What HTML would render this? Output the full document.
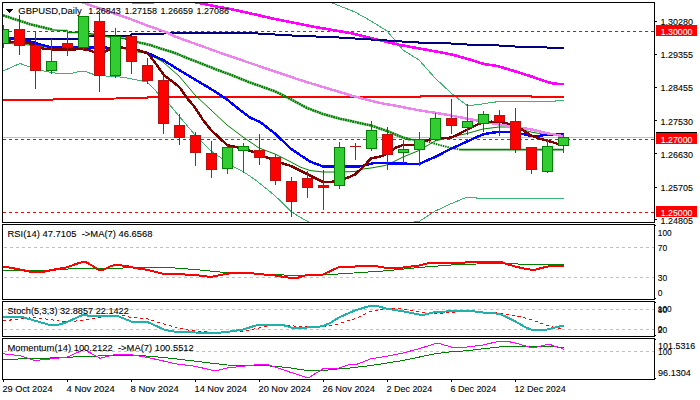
<!DOCTYPE html>
<html><head><meta charset="utf-8"><title>GBPUSD Daily</title>
<style>html,body{margin:0;padding:0;background:#fff;}svg{display:block;}text{font-family:"Liberation Sans",sans-serif;}</style>
</head><body>
<svg width="700" height="400" viewBox="0 0 700 400">
<rect x="0" y="0" width="700" height="400" fill="#fff"/>
<defs>
<clipPath id="cm"><rect x="3" y="3" width="651" height="219"/></clipPath>
<clipPath id="c1"><rect x="3" y="225" width="651" height="74"/></clipPath>
<clipPath id="c2"><rect x="3" y="302" width="651" height="34"/></clipPath>
<clipPath id="c3"><rect x="3" y="339" width="651" height="40"/></clipPath>
</defs>
<g clip-path="url(#cm)" shape-rendering="crispEdges">
<line x1="3" y1="137.5" x2="654" y2="137.5" stroke="#C0C0C0" stroke-width="1"/>
<line x1="3" y1="31.5" x2="654" y2="31.5" stroke="#FF0000" stroke-width="1" stroke-dasharray="3 3"/>
<line x1="3" y1="139.5" x2="654" y2="139.5" stroke="#FF0000" stroke-width="1" stroke-dasharray="3 3"/>
<line x1="3" y1="212.5" x2="654" y2="212.5" stroke="#FF0000" stroke-width="1" stroke-dasharray="3 3"/>
<polyline points="331,2.5 350,10 355,12 371,21 387,31 403,50 419,60 435,78 451,93 467,105.5 470,105.5 479,104.5 486,103.5 490,102.5 495,102.5 496,101.5 555,101.5 556,100.5 563.5,100.5" fill="none" stroke="#3CB371" stroke-width="1" />
<polyline points="130,2 134,4 143,3 152,4 156,2" fill="none" stroke="#3CB371" stroke-width="1" />
<polyline points="3,71 20,63.5 30,67 46,71.5 55,73 61,73.8 70,73.8 80,71.3 86,71.8 94,74.5 110,76.5 120,77 130,78.5 142,81 147,82 155,90 158,93.5 169,104 179,116 195,135 211,151 227,162 233,166.5 243,171.5 256,180.3 272,193.3 282,202.3 291.7,212 298,216 308.7,222 313,225" fill="none" stroke="#3CB371" stroke-width="1" />
<polyline points="409,225 414.6,221.5 419,221.5 433,212.4 435,211.2 451,203.7 466,197.5 476,197.5 477,198.5 563.5,198.5" fill="none" stroke="#3CB371" stroke-width="1" />
<polyline points="3,100.4 52,100.2 53,99.5 84,99.3 85,98.7 116,98.5 117,97.9 147,97.7 148,97 260,97 260,96.5 275,96.5 275,97 420,97 421,96 531,96 532,97 564,97" fill="none" stroke="#FF0000" stroke-width="2" />
<polyline points="186,0 196,2.5 235,10 275,19 315,27 350,33 400,45 440,52.2 452,54.6 468,59 484,64 498,66.2 514,71 530,76 546,81.6 554,83.6 564,84.2" fill="none" stroke="#FF00FF" stroke-width="2.6" />
<polyline points="3,38.6 80,38.6 89,36.2 105,36 130,35.7 132,34.3 163,34.2 165,33 257,33 259,34 275,34.5 292,35.5 307,36.3 338,37 340,38 354,38 356,39 370,39 372,40 386,40 388,41.2 402,41.4 404,42.3 418,42.4 420,43 450,43 452,44 466,44 468,45 498,45 500,46 514,46 516,47 546,47 548,48 564,48" fill="none" stroke="#000080" stroke-width="2" />
</g><g clip-path="url(#cm)">
<polyline points="3,15.3 18,20.3 30,24.2 40,26.7 52,29.5" fill="none" stroke="#008000" stroke-width="2.6" stroke-dasharray="2 0.45"/>
<polyline points="52,29.8 60,30.4 67,30.5 68,32.5 78,32.5 92,34 110,37 125,38.5" fill="none" stroke="#008000" stroke-width="1.3" />
<polyline points="125,38.5 137,42 150,45 160,48.3 175,53 187,58 200,63 215,69 230,74.5 250,82.5 275,91.3 290,98.8 307,108 323,114 339,118.5 355,122 371,125.5 387,131 403,137.5 410,139.5" fill="none" stroke="#008000" stroke-width="2.6" stroke-dasharray="2 0.45"/>
<polyline points="410,139.5 425,140.5 435,143.8 451,148 460,149.6" fill="none" stroke="#008000" stroke-width="2" stroke-dasharray="1.5 0.9"/>
<polyline points="460,149.6 564,149.6" fill="none" stroke="#008000" stroke-width="1.6" />
</g><g clip-path="url(#cm)" shape-rendering="crispEdges">
</g><g clip-path="url(#cm)">
<polyline points="3,43 30,45 60,49 121,48 137,52 147,53 163,62 179,76 195,95 211,110 227,125 243,137 259,148 275,154 291,162 300,167 310,170.5 323,172 339,172 355,171.5 363,169 371,168 385,165.5 391,163 403,157 419,150.5 435,141 451,137 467,133.5 483,129 499,127 510,127 523,130 531,132 547,135 564,135" fill="none" stroke="#008000" stroke-width="1" />
</g><g clip-path="url(#cm)" shape-rendering="crispEdges">
<polyline points="3,38 14,38.5 25,40.5 34,42.5 40,44.5 51,47.2 60,47.6 130,47.8 137,50 147,52.8 163,60 179,70 195,79.5 211,89 227,99.5 240,110 250,117.5 260,122 275,133.5 290,148 300,155 310,161.5 323,166.5 359,166.6 366,165 374,163 419,164 427,160.5 435,157 451,148.8 467,141.6 474,138.3 484,134 491.5,132.8 498,132 510,132 523,134 531,136 539,136 547,134.6 564,134.4" fill="none" stroke="#0000FF" stroke-width="2.45" />
<polyline points="76,0 84,3 118.6,15 133,20 147,25.5 161.4,30.5 166,32 175,36.5 200,45.5 225,54.5 250,63 275,71.5 300,80 323,87 355,96.6 380,103 394,105.4 408.6,108.3 423,111 437,113 452,115.7 468,118.8 483,121.7 490,123 507,125.6 523,128.1 531,129.4 547,133.3 564,136.2" fill="none" stroke="#EE82EE" stroke-width="2.45" />
<polyline points="3,41 14,42 25,42.5 30,43.5 35,46 45,49 60,49.6 75,49.6 78,48.6 89,50 94,52.3 105,51.5 110,49 121,47.5 131,48.5 137,50 147,53 150,56 153,60 158.6,67.6 164.3,75.5 173,82 179.3,87 187,98 195,107.5 203,120 211,130 227,145 243,148.5 259,154 275,161 291,166 300,170.5 307,174 323,182 331,182 339,180 347,178 355,174.5 363,167 371,158.5 380,156.5 387,154 395,148 403,145 413,145 419,143.5 427,140.5 435,138 451,137.7 457.4,134.8 468.8,128.8 478.5,123.9 485,122.3 491.5,121.7 501,122 507,123.3 515,126 523,130 531,135.5 539,138.5 547,140.5 555,143 558,144" fill="none" stroke="#800000" stroke-width="2.45" />
<rect x="3" y="25" width="1" height="23" fill="#008000"/>
<rect x="-2" y="29" width="11" height="15" fill="#008000"/>
<rect x="-1" y="30" width="9" height="13" fill="#32CD32"/>
<rect x="19" y="15" width="1" height="40" fill="#B41414"/>
<rect x="14" y="29" width="11" height="17" fill="#B41414"/>
<rect x="15" y="30" width="9" height="15" fill="#FF0000"/>
<rect x="35" y="31" width="1" height="58" fill="#B41414"/>
<rect x="30" y="45" width="11" height="26" fill="#B41414"/>
<rect x="31" y="46" width="9" height="24" fill="#FF0000"/>
<rect x="51" y="39" width="1" height="35" fill="#008000"/>
<rect x="46" y="61" width="11" height="10" fill="#008000"/>
<rect x="47" y="62" width="9" height="8" fill="#32CD32"/>
<rect x="67" y="32" width="1" height="24" fill="#B41414"/>
<rect x="62" y="43" width="11" height="5" fill="#B41414"/>
<rect x="63" y="44" width="9" height="3" fill="#FF0000"/>
<rect x="83" y="16" width="1" height="35" fill="#008000"/>
<rect x="78" y="16" width="11" height="32" fill="#008000"/>
<rect x="79" y="17" width="9" height="30" fill="#32CD32"/>
<rect x="99" y="12" width="1" height="80" fill="#B41414"/>
<rect x="94" y="21" width="11" height="55" fill="#B41414"/>
<rect x="95" y="22" width="9" height="53" fill="#FF0000"/>
<rect x="115" y="28" width="1" height="50" fill="#008000"/>
<rect x="110" y="36" width="11" height="40" fill="#008000"/>
<rect x="111" y="37" width="9" height="38" fill="#32CD32"/>
<rect x="131" y="36" width="1" height="38" fill="#B41414"/>
<rect x="126" y="36" width="11" height="26" fill="#B41414"/>
<rect x="127" y="37" width="9" height="24" fill="#FF0000"/>
<rect x="147" y="58" width="1" height="26" fill="#B41414"/>
<rect x="142" y="65" width="11" height="16" fill="#B41414"/>
<rect x="143" y="66" width="9" height="14" fill="#FF0000"/>
<rect x="163" y="76" width="1" height="58" fill="#B41414"/>
<rect x="158" y="80" width="11" height="44" fill="#B41414"/>
<rect x="159" y="81" width="9" height="42" fill="#FF0000"/>
<rect x="179" y="114" width="1" height="31" fill="#B41414"/>
<rect x="174" y="125" width="11" height="13" fill="#B41414"/>
<rect x="175" y="126" width="9" height="11" fill="#FF0000"/>
<rect x="195" y="132" width="1" height="34" fill="#B41414"/>
<rect x="190" y="135" width="11" height="18" fill="#B41414"/>
<rect x="191" y="136" width="9" height="16" fill="#FF0000"/>
<rect x="211" y="141" width="1" height="37" fill="#B41414"/>
<rect x="206" y="153" width="11" height="17" fill="#B41414"/>
<rect x="207" y="154" width="9" height="15" fill="#FF0000"/>
<rect x="227" y="145" width="1" height="29" fill="#008000"/>
<rect x="222" y="147" width="11" height="22" fill="#008000"/>
<rect x="223" y="148" width="9" height="20" fill="#32CD32"/>
<rect x="243" y="143" width="1" height="30" fill="#008000"/>
<rect x="238" y="146" width="11" height="5" fill="#008000"/>
<rect x="239" y="147" width="9" height="3" fill="#32CD32"/>
<rect x="259" y="134" width="1" height="31" fill="#B41414"/>
<rect x="254" y="150" width="11" height="8" fill="#B41414"/>
<rect x="255" y="151" width="9" height="6" fill="#FF0000"/>
<rect x="275" y="154" width="1" height="31" fill="#B41414"/>
<rect x="270" y="157" width="11" height="24" fill="#B41414"/>
<rect x="271" y="158" width="9" height="22" fill="#FF0000"/>
<rect x="291" y="177" width="1" height="40" fill="#B41414"/>
<rect x="286" y="181" width="11" height="21" fill="#B41414"/>
<rect x="287" y="182" width="9" height="19" fill="#FF0000"/>
<rect x="307" y="171" width="1" height="27" fill="#B41414"/>
<rect x="302" y="178" width="11" height="10" fill="#B41414"/>
<rect x="303" y="179" width="9" height="8" fill="#FF0000"/>
<rect x="323" y="170" width="1" height="40" fill="#B41414"/>
<rect x="318" y="185" width="11" height="3" fill="#B41414"/>
<rect x="319" y="186" width="9" height="1" fill="#FF0000"/>
<rect x="339" y="142" width="1" height="47" fill="#008000"/>
<rect x="334" y="147" width="11" height="39" fill="#008000"/>
<rect x="335" y="148" width="9" height="37" fill="#32CD32"/>
<rect x="355" y="143" width="1" height="17" fill="#B41414"/>
<rect x="350" y="146" width="11" height="1" fill="#B41414"/>
<rect x="371" y="121" width="1" height="30" fill="#008000"/>
<rect x="366" y="130" width="11" height="19" fill="#008000"/>
<rect x="367" y="131" width="9" height="17" fill="#32CD32"/>
<rect x="387" y="127" width="1" height="43" fill="#B41414"/>
<rect x="382" y="134" width="11" height="21" fill="#B41414"/>
<rect x="383" y="135" width="9" height="19" fill="#FF0000"/>
<rect x="403" y="140" width="1" height="23" fill="#008000"/>
<rect x="398" y="149" width="11" height="4" fill="#008000"/>
<rect x="399" y="150" width="9" height="2" fill="#32CD32"/>
<rect x="419" y="132" width="1" height="34" fill="#008000"/>
<rect x="414" y="139" width="11" height="11" fill="#008000"/>
<rect x="415" y="140" width="9" height="9" fill="#32CD32"/>
<rect x="435" y="113" width="1" height="28" fill="#008000"/>
<rect x="430" y="118" width="11" height="22" fill="#008000"/>
<rect x="431" y="119" width="9" height="20" fill="#32CD32"/>
<rect x="451" y="99" width="1" height="35" fill="#B41414"/>
<rect x="446" y="118" width="11" height="8" fill="#B41414"/>
<rect x="447" y="119" width="9" height="6" fill="#FF0000"/>
<rect x="467" y="104" width="1" height="31" fill="#008000"/>
<rect x="462" y="121" width="11" height="7" fill="#008000"/>
<rect x="463" y="122" width="9" height="5" fill="#32CD32"/>
<rect x="483" y="111" width="1" height="21" fill="#008000"/>
<rect x="478" y="114" width="11" height="10" fill="#008000"/>
<rect x="479" y="115" width="9" height="8" fill="#32CD32"/>
<rect x="499" y="110" width="1" height="26" fill="#B41414"/>
<rect x="494" y="115" width="11" height="7" fill="#B41414"/>
<rect x="495" y="116" width="9" height="5" fill="#FF0000"/>
<rect x="515" y="108" width="1" height="45" fill="#B41414"/>
<rect x="510" y="121" width="11" height="29" fill="#B41414"/>
<rect x="511" y="122" width="9" height="27" fill="#FF0000"/>
<rect x="531" y="147" width="1" height="27" fill="#B41414"/>
<rect x="526" y="147" width="11" height="23" fill="#B41414"/>
<rect x="527" y="148" width="9" height="21" fill="#FF0000"/>
<rect x="547" y="140" width="1" height="33" fill="#008000"/>
<rect x="542" y="146" width="11" height="26" fill="#008000"/>
<rect x="543" y="147" width="9" height="24" fill="#32CD32"/>
<rect x="563" y="134" width="1" height="19" fill="#008000"/>
<rect x="558" y="137" width="11" height="9" fill="#008000"/>
<rect x="559" y="138" width="9" height="7" fill="#32CD32"/>
</g>
<g clip-path="url(#c1)" shape-rendering="crispEdges">
<line x1="3" y1="247.5" x2="654" y2="247.5" stroke="#C0C0C0" stroke-width="1" stroke-dasharray="3 3" stroke-dashoffset="5"/>
<line x1="3" y1="277.5" x2="654" y2="277.5" stroke="#C0C0C0" stroke-width="1" stroke-dasharray="3 3" stroke-dashoffset="5"/>
<polyline points="3,270.5 50,270.5 75,268.4 118,268.4 128,267.6 165,267.6 175,268 200,270 230,273 260,274.25 300,275.5 330,274.5 350,273.25 387,270.75 419,267.5 451,265 483,263.75 499,263.25 525,264.3 564,264.3" fill="none" stroke="#008000" stroke-width="1" />
<polyline points="3,267 10,267.6 20,269.6 30,271.6 43,271.8 54,269.6 66,267.6 76,264 82,262.2 86,262.2 92,265.6 98,269.6 103,270 112,265.6 118,265 128,266.4 140,269 147,269.7 163,273.75 175,274 195,275 211,277 227,273.75 235,272.5 243,272.5 259,274 275,275.5 291,278 297,278 307,275 323,274.5 339,267 350,267 363,265.75 375,266 387,268 403,267.5 419,265.5 431,262.6 465,262.6 468,261.5 500,261.5 505,263.5 515,266.5 525,268.75 531,269.7 535,269.7 547,266.6 555,265.9 564,265.9" fill="none" stroke="#FF0000" stroke-width="2" />
</g>
<g clip-path="url(#c2)" shape-rendering="crispEdges">
<line x1="3" y1="309.5" x2="654" y2="309.5" stroke="#C0C0C0" stroke-width="1" stroke-dasharray="3 3" stroke-dashoffset="5"/>
<line x1="3" y1="329.5" x2="654" y2="329.5" stroke="#C0C0C0" stroke-width="1" stroke-dasharray="3 3" stroke-dashoffset="5"/>
<polyline points="3,321 20,318.75 35,317.5 50,319.5 60,321.25 70,322 83,320 99,317.3 115,316 125,315.7 131,317.5 147,318.75 163,323.75 175,327 180,328 190,330.5 215,332.5 227,332 243,331.25 259,328 275,325 291,325.75 307,327 323,327 339,323.75 350,320 355,318.75 371,311.25 387,308.75 403,308.75 419,312 435,313.75 451,312.5 467,311.25 483,312 499,313 515,315.5 525,318 531,319.5 547,325.5 564,329.5" fill="none" stroke="#FF0000" stroke-width="1" stroke-dasharray="3 3"/>
<polyline points="3,317 22,317 50,325 57,325 66,322.5 82.5,315 92.5,316 117.5,316 132.5,322 147.5,322 165,330 175,331.75 195,332.5 215,333 227,332 243,329.5 259,324.5 275,324.5 283,325 291,327.5 307,327.5 323,326.25 331,322.5 339,317.5 350,312.5 355,310.5 371,305.5 375,305.5 387,308.75 403,311.25 419,314.5 425,314.5 435,312 451,311.25 467,310.5 483,312.5 499,313.75 505,316.25 515,321.25 525,327 531,329.5 547,329.5 555,327.5 564,325.5" fill="none" stroke="#20B2AA" stroke-width="2" />
</g>
<g clip-path="url(#c3)" shape-rendering="crispEdges">
<line x1="3" y1="351.5" x2="654" y2="351.5" stroke="#C0C0C0" stroke-width="1" stroke-dasharray="3 3" stroke-dashoffset="5"/>
<polyline points="3,359.5 50,358 90,356.25 130,355 150,356.25 175,358.75 227,365 259,365.5 275,366.25 291,368 307,370.5 323,370.5 339,368.75 350,368 371,365.5 403,360.5 435,353.75 451,351.75 467,350.75 483,348.75 499,347 515,346.25 525,346.25 547,346.25 564,347.5" fill="none" stroke="#008000" stroke-width="1" />
<polyline points="3,353.75 19,355.5 35,360.5 50,359 67.5,357 84,349.5 100,358.25 115,354.5 130,354.5 147.5,357.5 162.5,360.75 175,363.75 179,364.25 195,366.25 211,370 219,370 227,368 243,366.25 259,364.5 267,364.5 275,367 291,372.5 307,377.5 309,377.5 323,368.75 339,368 350,364.5 355,365 371,358.75 387,356.25 403,353 419,348.75 435,343.75 440,343.75 451,347 467,347 483,345 499,341.25 507,341.25 515,343 525,345.75 531,347.5 535,347.5 547,344.5 550,344.5 555,346.25 560,347.5 564,349.5" fill="none" stroke="#FF00FF" stroke-width="1" />
</g>
<g shape-rendering="crispEdges" fill="none" stroke="#000" stroke-width="1">
<rect x="2.5" y="2.5" width="652" height="220"/>
<rect x="2.5" y="224.5" width="652" height="75"/>
<rect x="2.5" y="301.5" width="652" height="35"/>
<rect x="2.5" y="338.5" width="652" height="41"/>
</g>
<g shape-rendering="crispEdges" fill="#000">
<rect x="655" y="21" width="2" height="1"/>
<rect x="655" y="54" width="2" height="1"/>
<rect x="655" y="87" width="2" height="1"/>
<rect x="655" y="120" width="2" height="1"/>
<rect x="655" y="153" width="2" height="1"/>
<rect x="655" y="187" width="2" height="1"/>
<rect x="655" y="219" width="2" height="1"/>
<rect x="3" y="380" width="1" height="2"/>
<rect x="67" y="380" width="1" height="2"/>
<rect x="131" y="380" width="1" height="2"/>
<rect x="195" y="380" width="1" height="2"/>
<rect x="259" y="380" width="1" height="2"/>
<rect x="323" y="380" width="1" height="2"/>
<rect x="387" y="380" width="1" height="2"/>
<rect x="451" y="380" width="1" height="2"/>
<rect x="515" y="380" width="1" height="2"/>
<rect x="655" y="225" width="1" height="1"/>
<rect x="655" y="298" width="1" height="1"/>
<rect x="655" y="302" width="1" height="1"/>
<rect x="655" y="335" width="1" height="1"/>
<rect x="655" y="339" width="1" height="1"/>
<rect x="655" y="378" width="1" height="1"/>
<rect x="6" y="9" width="7" height="1"/><rect x="7" y="10" width="5" height="1"/><rect x="8" y="11" width="3" height="1"/><rect x="9" y="12" width="1" height="1"/>
</g>
<g shape-rendering="crispEdges">
<rect x="656" y="132" width="41" height="11" fill="#000"/>
<rect x="656" y="25" width="41" height="11" fill="#FF0000"/>
<rect x="656" y="133" width="41" height="11" fill="#FF0000"/>
<rect x="656" y="206" width="41" height="11" fill="#FF0000"/>
</g>
<text x="18.3" y="14.3" font-size="9.8" fill="#000" stroke="#000" stroke-width="0.1" text-anchor="start" textLength="63.4" lengthAdjust="spacingAndGlyphs" xml:space="preserve">GBPUSD,Daily</text>
<text x="88.3" y="14.3" font-size="9.8" fill="#000" stroke="#000" stroke-width="0.1" text-anchor="start" textLength="32.5" lengthAdjust="spacingAndGlyphs" xml:space="preserve">1.26843</text>
<text x="124.4" y="14.3" font-size="9.8" fill="#000" stroke="#000" stroke-width="0.1" text-anchor="start" textLength="32.5" lengthAdjust="spacingAndGlyphs" xml:space="preserve">1.27158</text>
<text x="160.5" y="14.3" font-size="9.8" fill="#000" stroke="#000" stroke-width="0.1" text-anchor="start" textLength="32.5" lengthAdjust="spacingAndGlyphs" xml:space="preserve">1.26659</text>
<text x="196.6" y="14.3" font-size="9.8" fill="#000" stroke="#000" stroke-width="0.1" text-anchor="start" textLength="32.5" lengthAdjust="spacingAndGlyphs" xml:space="preserve">1.27086</text>
<text x="660.6" y="25" font-size="9.8" fill="#000" stroke="#000" stroke-width="0.1" text-anchor="start" textLength="32.4" lengthAdjust="spacingAndGlyphs" xml:space="preserve">1.30280</text>
<text x="660.6" y="58" font-size="9.8" fill="#000" stroke="#000" stroke-width="0.1" text-anchor="start" textLength="32.4" lengthAdjust="spacingAndGlyphs" xml:space="preserve">1.29355</text>
<text x="660.6" y="91" font-size="9.8" fill="#000" stroke="#000" stroke-width="0.1" text-anchor="start" textLength="32.4" lengthAdjust="spacingAndGlyphs" xml:space="preserve">1.28455</text>
<text x="660.6" y="124.5" font-size="9.8" fill="#000" stroke="#000" stroke-width="0.1" text-anchor="start" textLength="32.4" lengthAdjust="spacingAndGlyphs" xml:space="preserve">1.27530</text>
<text x="660.6" y="157.5" font-size="9.8" fill="#000" stroke="#000" stroke-width="0.1" text-anchor="start" textLength="32.4" lengthAdjust="spacingAndGlyphs" xml:space="preserve">1.26630</text>
<text x="660.6" y="191" font-size="9.8" fill="#000" stroke="#000" stroke-width="0.1" text-anchor="start" textLength="32.4" lengthAdjust="spacingAndGlyphs" xml:space="preserve">1.25705</text>
<text x="660.6" y="223.5" font-size="9.8" fill="#000" stroke="#000" stroke-width="0.1" text-anchor="start" textLength="32.4" lengthAdjust="spacingAndGlyphs" xml:space="preserve">1.24805</text>
<text x="660.8" y="34.5" font-size="9.8" fill="#fff" stroke="#fff" stroke-width="0.1" text-anchor="start" textLength="31.7" lengthAdjust="spacingAndGlyphs" xml:space="preserve">1.30000</text>
<text x="660.8" y="142.5" font-size="9.8" fill="#fff" stroke="#fff" stroke-width="0.1" text-anchor="start" textLength="31.7" lengthAdjust="spacingAndGlyphs" xml:space="preserve">1.27000</text>
<text x="660.8" y="215.5" font-size="9.8" fill="#fff" stroke="#fff" stroke-width="0.1" text-anchor="start" textLength="31.7" lengthAdjust="spacingAndGlyphs" xml:space="preserve">1.25000</text>
<text x="7.5" y="237.3" font-size="9.8" fill="#000" stroke="#000" stroke-width="0.1" text-anchor="start" textLength="145" lengthAdjust="spacingAndGlyphs" xml:space="preserve">RSI(14) 47.7105  -&gt;MA(7) 46.6568</text>
<text x="657.8" y="235.6" font-size="9.8" fill="#000" stroke="#000" stroke-width="0.1" text-anchor="start" textLength="13.8" lengthAdjust="spacingAndGlyphs" xml:space="preserve">100</text>
<text x="657.8" y="251.1" font-size="9.8" fill="#000" stroke="#000" stroke-width="0.1" text-anchor="start" textLength="9.4" lengthAdjust="spacingAndGlyphs" xml:space="preserve">70</text>
<text x="657.8" y="281.3" font-size="9.8" fill="#000" stroke="#000" stroke-width="0.1" text-anchor="start" textLength="9.4" lengthAdjust="spacingAndGlyphs" xml:space="preserve">30</text>
<text x="657.8" y="296.3" font-size="9.8" fill="#000" stroke="#000" stroke-width="0.1" text-anchor="start" textLength="4.7" lengthAdjust="spacingAndGlyphs" xml:space="preserve">0</text>
<text x="7.5" y="313.8" font-size="9.8" fill="#000" stroke="#000" stroke-width="0.1" text-anchor="start" textLength="121.3" lengthAdjust="spacingAndGlyphs" xml:space="preserve">Stoch(5,3,3) 32.8857 22.1422</text>
<text x="657.8" y="311.8" font-size="9.8" fill="#000" stroke="#000" stroke-width="0.1" text-anchor="start" textLength="13.8" lengthAdjust="spacingAndGlyphs" xml:space="preserve">100</text>
<text x="657.8" y="312.7" font-size="9.8" fill="#000" stroke="#000" stroke-width="0.1" text-anchor="start" textLength="9.4" lengthAdjust="spacingAndGlyphs" xml:space="preserve">80</text>
<text x="657.8" y="332.7" font-size="9.8" fill="#000" stroke="#000" stroke-width="0.1" text-anchor="start" textLength="9.4" lengthAdjust="spacingAndGlyphs" xml:space="preserve">20</text>
<text x="657.8" y="331.9" font-size="9.8" fill="#000" stroke="#000" stroke-width="0.1" text-anchor="start" textLength="4.7" lengthAdjust="spacingAndGlyphs" xml:space="preserve">0</text>
<text x="7.5" y="350.8" font-size="9.8" fill="#000" stroke="#000" stroke-width="0.1" text-anchor="start" textLength="186.3" lengthAdjust="spacingAndGlyphs" xml:space="preserve">Momentum(14) 100.2122  -&gt;MA(7) 100.5512</text>
<text x="658.1" y="348.6" font-size="9.8" fill="#000" stroke="#000" stroke-width="0.1" text-anchor="start" textLength="37.2" lengthAdjust="spacingAndGlyphs" xml:space="preserve">101.5316</text>
<text x="658.1" y="354.6" font-size="9.8" fill="#000" stroke="#000" stroke-width="0.1" text-anchor="start" textLength="13.8" lengthAdjust="spacingAndGlyphs" xml:space="preserve">100</text>
<text x="658.1" y="375.7" font-size="9.8" fill="#000" stroke="#000" stroke-width="0.1" text-anchor="start" textLength="32.7" lengthAdjust="spacingAndGlyphs" xml:space="preserve">96.1304</text>
<text x="2.5" y="392" font-size="9.8" fill="#000" stroke="#000" stroke-width="0.1" text-anchor="start" textLength="50" lengthAdjust="spacingAndGlyphs" xml:space="preserve">29 Oct 2024</text>
<text x="66.5" y="392" font-size="9.8" fill="#000" stroke="#000" stroke-width="0.1" text-anchor="start" textLength="48.3" lengthAdjust="spacingAndGlyphs" xml:space="preserve">4 Nov 2024</text>
<text x="130.5" y="392" font-size="9.8" fill="#000" stroke="#000" stroke-width="0.1" text-anchor="start" textLength="48.3" lengthAdjust="spacingAndGlyphs" xml:space="preserve">8 Nov 2024</text>
<text x="194.5" y="392" font-size="9.8" fill="#000" stroke="#000" stroke-width="0.1" text-anchor="start" textLength="52.5" lengthAdjust="spacingAndGlyphs" xml:space="preserve">14 Nov 2024</text>
<text x="258.5" y="392" font-size="9.8" fill="#000" stroke="#000" stroke-width="0.1" text-anchor="start" textLength="52.5" lengthAdjust="spacingAndGlyphs" xml:space="preserve">20 Nov 2024</text>
<text x="322.5" y="392" font-size="9.8" fill="#000" stroke="#000" stroke-width="0.1" text-anchor="start" textLength="52.5" lengthAdjust="spacingAndGlyphs" xml:space="preserve">26 Nov 2024</text>
<text x="386.5" y="392" font-size="9.8" fill="#000" stroke="#000" stroke-width="0.1" text-anchor="start" textLength="45.8" lengthAdjust="spacingAndGlyphs" xml:space="preserve">2 Dec 2024</text>
<text x="450.5" y="392" font-size="9.8" fill="#000" stroke="#000" stroke-width="0.1" text-anchor="start" textLength="45.8" lengthAdjust="spacingAndGlyphs" xml:space="preserve">6 Dec 2024</text>
<text x="514.5" y="392" font-size="9.8" fill="#000" stroke="#000" stroke-width="0.1" text-anchor="start" textLength="51.3" lengthAdjust="spacingAndGlyphs" xml:space="preserve">12 Dec 2024</text>
</svg></body></html>
